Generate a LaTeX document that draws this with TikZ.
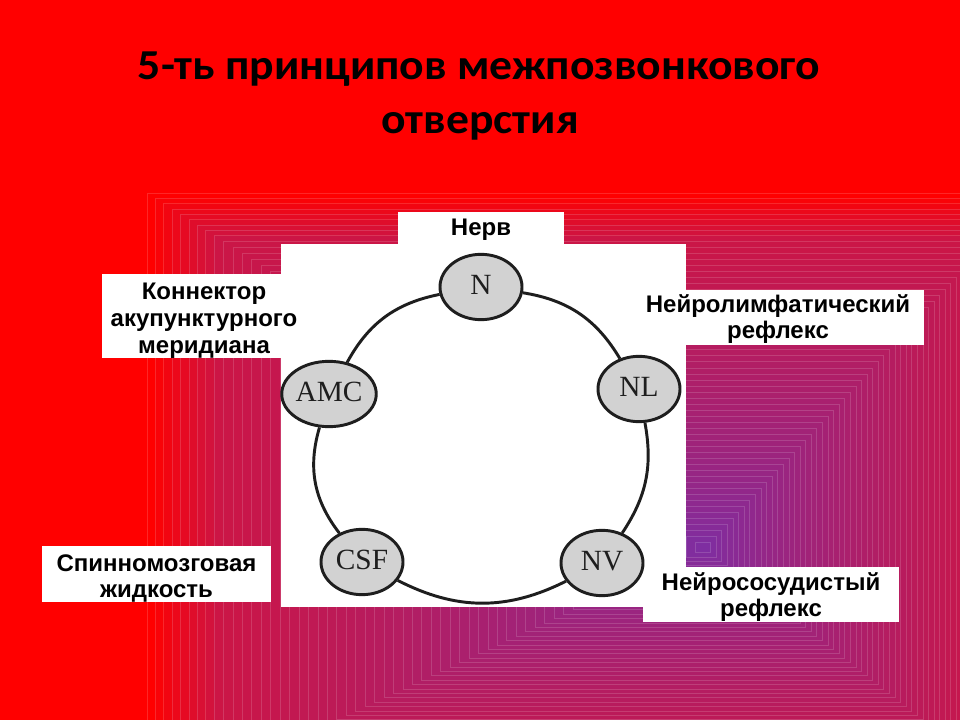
\documentclass[tikz,border=0pt]{standalone}
\usepackage{fontspec}
\setmainfont{Liberation Sans}
\newfontfamily\ttl{Carlito}[FakeStretch=1.07]
\newfontfamily\serifnode{Liberation Serif}
\usetikzlibrary{shapes.geometric}
\definecolor{bgred}{HTML}{FF0000}
\definecolor{crim}{HTML}{CC1545}
\definecolor{purp}{HTML}{7B2FA6}
\definecolor{ellfill}{HTML}{D2D2D2}
\definecolor{inkc}{HTML}{1E1E1E}
\begin{document}
\begin{tikzpicture}[x=0.75pt,y=-0.75pt,
  whitebox/.style={fill=white, inner sep=0pt},
  labeltext/.style={inner sep=0pt, align=center, font=\fontsize{18}{20}\selectfont\bfseries},
  circnode/.style={ellipse, draw=inkc, line width=2.2pt, fill=ellfill, inner sep=0pt, minimum width=61.5pt, minimum height=49pt, text height=14pt, text depth=3pt, font=\serifnode\fontsize{22}{24}\selectfont, text=inkc},
  ring/.style={line width=2.2pt, draw=inkc},
  titletext/.style={font=\ttl\bfseries\fontsize{32}{40}\selectfont, anchor=base, inner sep=0pt},
  band/.style={draw=white, draw opacity=0.15, line width=0.4pt}]
\useasboundingbox (0,0) rectangle (960,720);
\fill[bgred] (0,0) rectangle (960,720);
\begin{scope}
\clip (0,0) rectangle (960,720);
\foreach \i in {0,...,7}{
  \pgfmathsetmacro\s{1-0.12*\i/8}
  \pgfmathtruncatemacro\pc{\i/8*100}
  \filldraw[band, fill=crim!\pc!bgred] ({705-558*\s},{548-355*\s}) rectangle ({705+330*\s},{548+260*\s});
}
\foreach \i in {0,...,51}{
  \pgfmathsetmacro\s{0.88*(1-\i/52)}
  \pgfmathtruncatemacro\pc{100*(1-\i/52)^0.75}
  \filldraw[band, fill=crim!\pc!purp] ({705-558*\s},{548-355*\s}) rectangle ({705+330*\s},{548+260*\s});
}
\end{scope}
\node[titletext] (t1) at (479,79.3) {5-ть принципов межпозвонкового};
\node[titletext] (t2) at (480,133.3) {отверстия};
\node[whitebox, minimum width=303.75pt, minimum height=272.25pt] (panel) at (483.5,425.5) {};
\node[whitebox, minimum width=124.5pt, minimum height=24pt] (nervB) at (481,228) {};
\node[whitebox, minimum width=153pt, minimum height=63pt] (amcB) at (204,316) {};
\node[whitebox, minimum width=219pt, minimum height=41.25pt] (nlB) at (778,317.5) {};
\node[whitebox, minimum width=171.75pt, minimum height=42pt] (csfB) at (156.5,574) {};
\node[whitebox, minimum width=192pt, minimum height=41.25pt] (nvB) at (771,594.5) {};
\node[labeltext] (nervT) at ([yshift=-1.5pt]nervB.center) {Нерв};
\node[labeltext] (amcT) at ([yshift=-3.6pt]amcB.center) {Коннектор\\акупунктурного\\меридиана};
\node[labeltext] (nlT) at ([yshift=-1.2pt]nlB.center) {Нейролимфатический\\рефлекс};
\node[labeltext] (csfT) at ([yshift=-3.3pt]csfB.center) {Спинномозговая\\жидкость};
\node[labeltext] (nvT) at ([yshift=-1.9pt]nvB.center) {Нейрососудистый\\рефлекс};
\node[circnode] (N) at (481,287) {N};
\node[circnode] (AMC) at (329,394) {AMC};
\node[circnode] (NL) at (639,389) {NL};
\node[circnode] (CSF) at (362,562) {CSF};
\node[circnode] (NV) at (602,563) {NV};
\draw[ring] (N) to[bend right=25] (AMC);
\draw[ring] (AMC) to[bend right=27] (CSF);
\draw[ring] (CSF) to[bend right=27] (NV);
\draw[ring] (NV) to[bend right=22] (NL);
\draw[ring] (NL) to[bend right=25] (N);
\end{tikzpicture}
\end{document}
